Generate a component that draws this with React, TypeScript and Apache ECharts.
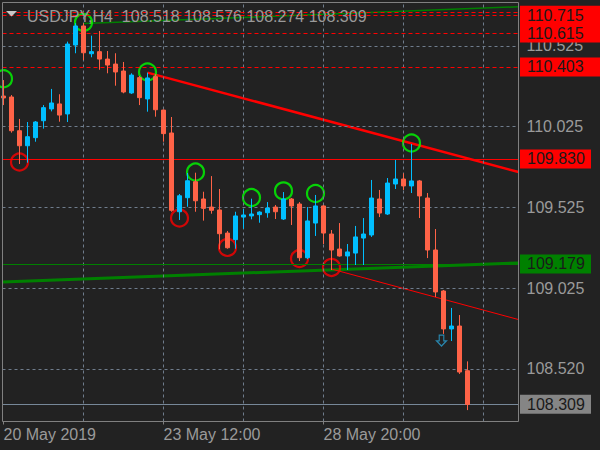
import React, { useEffect, useRef } from "react";
import * as echarts from "echarts";

// ---- candle data (bar index = array position), USDJPY H4 ----
const opens = [
  110.220, 110.214, 110.005, 109.912, 109.962, 110.067, 110.140, 110.171, 110.109, 110.536,
  110.654, 110.482, 110.495, 110.449, 110.418, 110.375, 110.239, 110.334, 110.202, 110.340,
  110.133, 109.991, 109.503, 109.590, 109.689, 109.582, 109.532, 109.514, 109.371, 109.330,
  109.470, 109.477, 109.485, 109.497, 109.532, 109.458, 109.582, 109.551, 109.218, 109.433,
  109.539, 109.365, 109.272, 109.229, 109.247, 109.340, 109.359, 109.582, 109.489, 109.675,
  109.706, 109.663, 109.694, 109.588, 109.266, 109.012, 108.777, 108.795, 108.518,
];
const closes = [
  110.208, 110.005, 109.912, 109.968, 110.059, 110.148, 110.177, 110.102, 110.542, 110.654,
  110.488, 110.495, 110.449, 110.412, 110.369, 110.245, 110.350, 110.210, 110.332, 110.135,
  109.987, 109.512, 109.602, 109.695, 109.571, 109.524, 109.512, 109.367, 109.280, 109.477,
  109.483, 109.489, 109.501, 109.526, 109.503, 109.582, 109.539, 109.218, 109.446, 109.539,
  109.371, 109.266, 109.229, 109.254, 109.347, 109.365, 109.588, 109.495, 109.681, 109.706,
  109.663, 109.694, 109.601, 109.266, 109.006, 108.777, 108.795, 108.510, 108.309,
];
const lows = [
  110.164, 109.993, 109.799, 109.807, 109.937, 110.018, 110.125, 110.061, 110.059, 110.485,
  110.443, 110.460, 110.383, 110.361, 110.284, 110.237, 110.233, 110.164, 110.123, 110.092,
  109.937, 109.503, 109.452, 109.534, 109.503, 109.448, 109.491, 109.270, 109.274, 109.274,
  109.398, 109.456, 109.435, 109.466, 109.458, 109.452, 109.421, 109.198, 109.210, 109.353,
  109.303, 109.142, 109.225, 109.142, 109.173, 109.173, 109.347, 109.470, 109.483, 109.644,
  109.638, 109.619, 109.464, 109.216, 108.975, 108.746, 108.702, 108.498, 108.274,
];
const highs = [
  110.319, 110.226, 110.078, 110.059, 110.065, 110.164, 110.264, 110.231, 110.557, 110.671,
  110.671, 110.594, 110.623, 110.499, 110.485, 110.431, 110.361, 110.344, 110.365, 110.355,
  110.136, 110.090, 109.613, 109.743, 109.745, 109.627, 109.724, 109.644, 109.384, 109.503,
  109.520, 109.584, 109.506, 109.563, 109.545, 109.625, 109.588, 109.563, 109.532, 109.607,
  109.545, 109.390, 109.433, 109.303, 109.415, 109.464, 109.700, 109.638, 109.712, 109.824,
  109.741, 109.923, 109.700, 109.619, 109.396, 109.018, 108.907, 108.863, 108.576,
];

// ---- swing markers [bar, price] ----
const swingHighs = [
  [0, 110.327], [10, 110.676], [18, 110.369], [24, 109.749],
  [31, 109.591], [35, 109.632], [39, 109.616], [51, 109.929],
];
const swingLows = [
  [2, 109.811], [22, 109.464], [28, 109.282], [37, 109.213], [41, 109.158],
];
const sellArrows = [[54.75, 108.705]];

// ---- drawn lines [bar, price] ----
const trendRed = [[18, 110.365], [64.375, 109.749]];
const trendRedThin = [[41, 109.148], [64.375, 108.835]];
const channelLower = [[-0.125, 109.068], [64.375, 109.186]];
const channelUpper = [[10, 110.669], [64.375, 110.773]];

// ---- horizontal levels ----
const dashedRedLevels = [110.739, 110.715, 110.615, 110.403];
const dashedRedLabels = ["", "110.715", "110.615", "110.403"];
const resistanceLevel = 109.830;
const supportLevel = 109.179;
const lastPrice = 108.309;

// ---- axes / ticks ----
const gridPrices = [110.525, 110.025, 109.525, 109.025, 108.525];
const gridPriceLabels = ["110.525", "110.025", "109.525", "109.025", "108.520"];
const gridBars = [10, 20, 30, 40, 50, 60];
const timeLabelBars = [0, 20, 40];
const timeLabels = ["20 May 2019", "23 May 12:00", "28 May 20:00"];
const titleText = "USDJPY,H4  108.518 108.576 108.274 108.309";

const Y_MIN = 108.2034;
const Y_MAX = 110.7995;
const X_MIN = -0.125;
const X_MAX = 64.375;

const BG = "#222222";
const TEXT = "#9a9a9a";
const FONT = '"Liberation Sans", Arial, sans-serif';
const BULL = "#00BFFF";
const BEAR = "#FF6347";

function boxLabel(text: string, bg: string, width: number) {
  return {
    show: text !== "",
    position: "end",
    distance: 1.5,
    formatter: text,
    color: "#1a1a1a",
    backgroundColor: bg,
    padding: [2, 0, 1, 7],
    width: width,
    fontSize: 16,
    fontFamily: FONT,
  };
}

export default function App() {
  const ref = useRef<HTMLDivElement>(null);
  useEffect(() => {
    const chart = echarts.init(ref.current!, null, { renderer: "svg" });
    const candleData = opens.map((o, i) => [i, o, closes[i], lows[i], highs[i]]);
    const option: any = {
      animation: false,
      backgroundColor: BG,
      grid: { left: 2.5, top: 2.5, width: 516, height: 419, show: false },
      xAxis: {
        type: "value",
        min: X_MIN,
        max: X_MAX,
        axisLine: { show: false },
        splitLine: { show: false },
        axisTick: {
          show: true,
          customValues: timeLabelBars,
          length: 3,
          lineStyle: { color: "#808080" },
        },
        axisLabel: {
          customValues: timeLabelBars,
          formatter: (v: number) => {
            const k = timeLabelBars.indexOf(Math.round(v * 1000) / 1000);
            return k >= 0 ? timeLabels[k] : "";
          },
          align: "left",
          margin: 5,
          color: TEXT,
          fontSize: 16,
          fontFamily: FONT,
        },
      },
      yAxis: { type: "value", min: Y_MIN, max: Y_MAX, show: false, scale: true },
      graphic: [
        {
          type: "polygon",
          z: 20,
          shape: { points: [[6, 11], [17, 11], [11.5, 16.5]] },
          style: { fill: "#c8c8c8" },
        },
        {
          type: "text",
          z: 20,
          x: 27,
          y: 16,
          style: {
            text: titleText,
            fill: TEXT,
            font: `16px ${FONT}`,
            verticalAlign: "middle",
          },
        },
        {
          type: "rect",
          z: 20,
          shape: { x: 2.5, y: 2.5, width: 516, height: 419 },
          style: { fill: "none", stroke: "#808080", lineWidth: 1 },
        },
      ],
      series: [
        {
          type: "line",
          data: [],
          clip: false,
          z: 1,
          markLine: {
            silent: true,
            symbol: ["none", "none"],
            animation: false,
            lineStyle: { color: "#6f7c8c", type: [3, 3], width: 1 },
            label: {
              show: true,
              position: "end",
              distance: 8,
              color: TEXT,
              fontSize: 16,
              fontFamily: FONT,
            },
            data: [
              ...gridPrices.map((p, k) => ({
                yAxis: p,
                label: { formatter: gridPriceLabels[k] },
              })),
              ...gridBars.map((b) => ({ xAxis: b, label: { show: false } })),
            ],
          },
        },
        {
          type: "line",
          data: [],
          clip: false,
          z: 2,
          markLine: {
            silent: true,
            symbol: ["none", "none"],
            animation: false,
            data: [
              ...dashedRedLevels.map((p, k) => ({
                yAxis: p,
                lineStyle: { color: "#ff0000", type: [4, 3], width: 1 },
                label: boxLabel(dashedRedLabels[k], "#ff0000", 73),
              })),
              {
                yAxis: resistanceLevel,
                lineStyle: { color: "#ff0000", type: "solid", width: 1 },
                label: boxLabel(resistanceLevel.toFixed(3), "#ff0000", 64),
              },
              {
                yAxis: supportLevel,
                lineStyle: { color: "#008000", type: "solid", width: 1 },
                label: boxLabel(supportLevel.toFixed(3), "#008000", 64),
              },
              {
                yAxis: lastPrice,
                lineStyle: { color: "#778899", type: "solid", width: 1 },
                label: boxLabel(lastPrice.toFixed(3), "#858585", 64),
              },
            ],
          },
        },
        {
          type: "line",
          data: channelLower,
          symbol: "none",
          z: 3,
          lineStyle: { color: "#008000", width: 3 },
        },
        {
          type: "line",
          data: channelUpper,
          symbol: "none",
          z: 3,
          lineStyle: { color: "#008000", width: 1.5 },
        },
        {
          type: "line",
          data: trendRed,
          symbol: "none",
          z: 3,
          lineStyle: { color: "#ff0000", width: 2.5 },
        },
        {
          type: "line",
          data: trendRedThin,
          symbol: "none",
          z: 3,
          lineStyle: { color: "#ff0000", width: 1 },
        },
        {
          type: "scatter",
          data: swingHighs,
          z: 4,
          symbol: "circle",
          symbolSize: 17,
          itemStyle: { color: "rgba(0,0,0,0)", borderColor: "#00ff00", borderWidth: 2.2 },
        },
        {
          type: "scatter",
          data: swingLows,
          z: 4,
          symbol: "circle",
          symbolSize: 17,
          itemStyle: { color: "rgba(0,0,0,0)", borderColor: "#ff0000", borderWidth: 2.2 },
        },
        {
          type: "scatter",
          data: sellArrows,
          z: 4,
          symbol: "path://M3,0L8,0L8,6L11,6L5.5,11.5L0,6L3,6Z",
          symbolSize: [10, 11],
          itemStyle: { color: "rgba(0,0,0,0)", borderColor: "#2a9fd0", borderWidth: 1.2 },
        },
        {
          type: "candlestick",
          data: candleData,
          z: 5,
          barWidth: 4,
          itemStyle: {
            color: BULL,
            color0: BEAR,
            borderColor: BULL,
            borderColor0: BEAR,
            borderWidth: 1,
          },
        },
      ],
    };
    chart.setOption(option);
    return () => chart.dispose();
  }, []);
  return (
    <div
      ref={ref}
      style={{ position: "fixed", left: 0, top: 0, width: 600, height: 450, background: BG }}
    />
  );
}
